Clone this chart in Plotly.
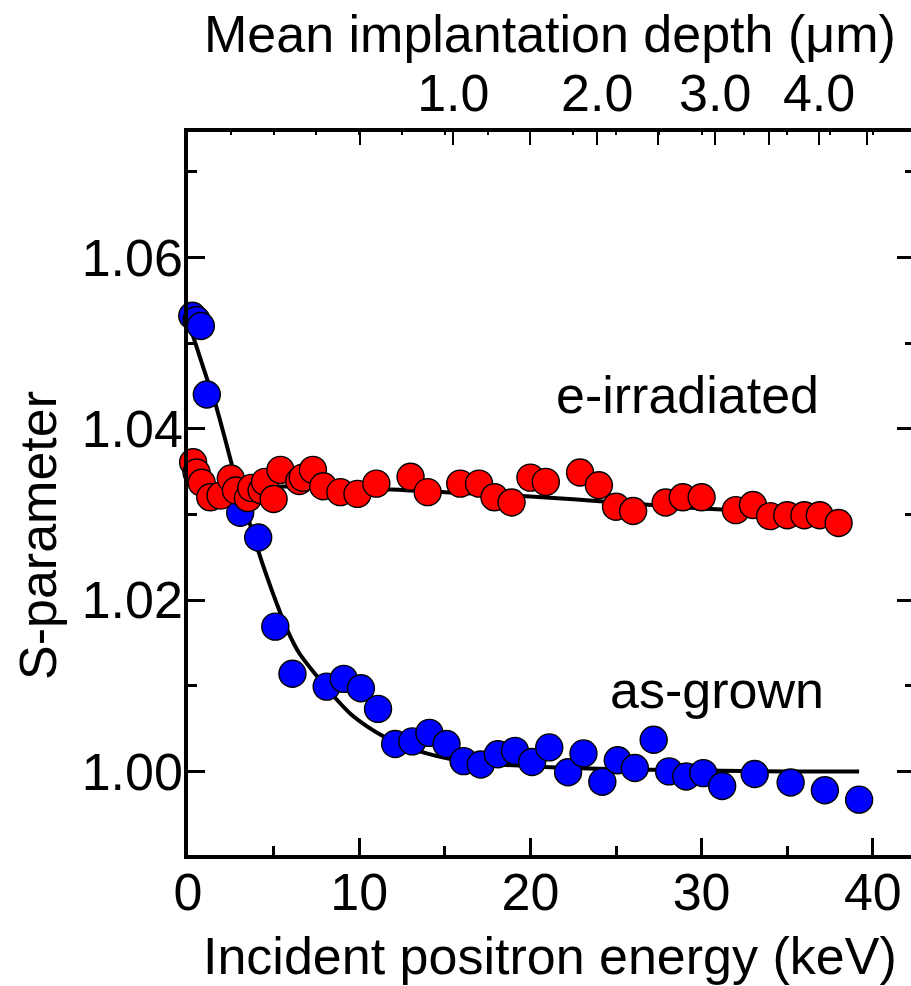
import numpy as np
import plotly.graph_objects as go

# ---------------- data ----------------
# as-grown (blue)
asg_E = [0.25, 0.5, 0.75, 1.1, 3.05, 4.1, 5.1, 6.1, 8.1, 9.1, 10.1, 11.1, 12.1, 13.1,
         14.1, 15.1, 16.1, 17.1, 18.1, 19.1, 20.1, 21.1, 22.2, 23.1, 24.2, 25.1, 26.1,
         27.2, 28.1, 29.1, 30.1, 31.2, 33.1, 35.2, 37.2, 39.2]
asg_S = [1.0532, 1.0527, 1.0520, 1.0440, 1.0302, 1.0273, 1.0169, 1.0114, 1.0099, 1.0108,
         1.0097, 1.0073, 1.0032, 1.0035, 1.0045, 1.0032, 1.0012, 1.0008, 1.0020, 1.0024,
         1.0011, 1.0028, 0.9999, 1.0021, 0.9988, 1.0013, 1.0004, 1.0037, 1.0000, 0.9994,
         0.9998, 0.9983, 0.9997, 0.9987, 0.9978, 0.9967]

# e-irradiated (red)
irr_E = [0.3, 0.5, 0.8, 1.3, 1.9, 2.5, 2.8, 3.5, 3.7, 4.3, 4.5, 5.0, 5.4, 6.5, 6.7, 7.3,
         7.9, 8.9, 9.9, 11.0, 13.0, 14.0, 15.9, 17.0, 17.9, 18.9, 20.0, 20.9, 22.9, 24.0,
         25.0, 26.0, 27.9, 28.9, 30.0, 32.0, 33.0, 34.0, 35.0, 36.0, 36.9, 38.0]
irr_S = [1.0361, 1.0349, 1.0337, 1.0320, 1.0322, 1.0342, 1.0328, 1.0319, 1.0331, 1.0328,
         1.0338, 1.0318, 1.0352, 1.0339, 1.0343, 1.0352, 1.0333, 1.0326, 1.0324, 1.0336,
         1.0344, 1.0326, 1.0336, 1.0336, 1.0320, 1.0314, 1.0343, 1.0338, 1.0349, 1.0334,
         1.0309, 1.0304, 1.0314, 1.0320, 1.0320, 1.0305, 1.0311, 1.0298, 1.0299, 1.0299,
         1.0299, 1.0290]

# fit curves
fitA_E = [0.25, 1.0, 1.6, 2.1, 2.7, 3.4, 4.0, 4.6, 5.2, 5.8, 6.5, 7.5, 8.5, 9.5, 10.5,
          11.5, 13.0, 15.0, 17.0, 20.0, 24.0, 30.0, 35.0, 39.2]
fitA_S = [1.0511, 1.0465, 1.0429, 1.0393, 1.0348, 1.0303, 1.0264, 1.0228, 1.0195, 1.0165,
          1.0138, 1.0112, 1.0088, 1.0067, 1.0052, 1.0040, 1.0027, 1.0016, 1.0010, 1.0006,
          1.0003, 1.0001, 1.0000, 1.0000]
fitB_E = [0.3, 1.0, 2.0, 5.0, 10.0, 15.0, 20.0, 25.0, 30.0, 35.0, 38.0]
fitB_S = [1.0345, 1.0337, 1.0334, 1.0333, 1.0331, 1.0326, 1.0321, 1.0314, 1.0307, 1.0302, 1.0299]

# top axis: mean implantation depth ticks (µm); z[nm] = 40/rho * E^1.6, rho = 3.21 g/cm3
depth_ticks = [0.5, 1.0, 1.5, 2.0, 2.5, 3.0, 3.5, 4.0, 4.5]
depth_text = ["", "1.0", "", "2.0", "", "3.0", "", "4.0", ""]
rho = 3.21
depth_E = [(z * 1000.0 / (40.0 / rho)) ** (1 / 1.6) for z in depth_ticks]

x_ticks = [0, 10, 20, 30, 40]
y_ticks = [1.00, 1.02, 1.04, 1.06]
y_minor = [0.99, 1.01, 1.03, 1.05, 1.07]

XR = [0, 42.23]
YR = [0.99024, 1.07465]
FONT = "Liberation Sans, Arial, sans-serif"
FS = 52

fig = go.Figure()
fig.add_trace(go.Scatter(x=fitA_E, y=fitA_S, mode="lines", line=dict(color="black", width=4, shape="spline", smoothing=0.8),
                         showlegend=False, hoverinfo="skip"))
fig.add_trace(go.Scatter(x=fitB_E, y=fitB_S, mode="lines", line=dict(color="black", width=4, shape="spline", smoothing=0.8),
                         showlegend=False, hoverinfo="skip"))
fig.add_trace(go.Scatter(x=asg_E, y=asg_S, mode="markers",
                         marker=dict(size=27, color="#0000ff", line=dict(color="black", width=1.4)),
                         showlegend=False, cliponaxis=False))
fig.add_trace(go.Scatter(x=irr_E, y=irr_S, mode="markers",
                         marker=dict(size=27, color="#ff0000", line=dict(color="black", width=1.4)),
                         showlegend=False, cliponaxis=False))
# dummy trace to activate the top / right axes
fig.add_trace(go.Scatter(x=[None], y=[None], xaxis="x2", yaxis="y2", showlegend=False, hoverinfo="skip"))

axis_common = dict(showgrid=False, zeroline=False, linecolor="black", tickcolor="black",
                   tickfont=dict(family=FONT, size=FS, color="black"))

fig.update_layout(
    width=911, height=986,
    margin=dict(l=188, r=0, t=132, b=131, pad=0),
    paper_bgcolor="white", plot_bgcolor="white",
    xaxis=dict(range=XR, showline=True, linewidth=3.5, ticks="inside", ticklen=17, tickwidth=3,
               tickmode="array", tickvals=x_ticks, ticktext=[str(v) for v in x_ticks],
               minor=dict(ticks="inside", tickmode="array", tickvals=[5, 15, 25, 35], ticklen=9, tickwidth=3),
               ticklabelstandoff=-11, **axis_common),
    yaxis=dict(range=YR, showline=True, linewidth=3.5, ticks="inside", ticklen=17, tickwidth=3,
               tickmode="array", tickvals=y_ticks, ticktext=["%.2f" % v for v in y_ticks],
               minor=dict(ticks="inside", tickmode="array", tickvals=y_minor, ticklen=9, tickwidth=3),
               ticklabelstandoff=-9, **axis_common),
    xaxis2=dict(range=XR, overlaying="x", side="top", anchor="y2", showline=True, linewidth=3.5,
                ticks="inside", ticklen=13, tickwidth=2,
                tickmode="array", tickvals=depth_E, ticktext=depth_text,
                minor=dict(ticks="inside", tickmode="linear", tick0=0, dtick=2.5, ticklen=3, tickwidth=2),
                ticklabelstandoff=-4, **axis_common),
    yaxis2=dict(range=YR, overlaying="y", side="right", anchor="x2", showline=False,
                ticks="inside", ticklen=14, tickwidth=3, showticklabels=False,
                tickmode="array", tickvals=y_ticks,
                minor=dict(ticks="inside", tickmode="array", tickvals=y_minor, ticklen=6, tickwidth=3),
                **axis_common),
)

ann_font = dict(family=FONT, size=FS, color="black")
fig.add_annotation(text="Incident positron energy (keV)", xref="paper", yref="paper", x=0.5, y=0,
                   xanchor="center", yanchor="top", yshift=-70, showarrow=False, font=ann_font)
fig.add_annotation(text="Mean implantation depth (μm)", xref="paper", yref="paper", x=0.5, y=1,
                   xanchor="center", yanchor="top", yshift=129, showarrow=False, font=ann_font)
fig.add_annotation(text="S-parameter", xref="paper", yref="paper", x=-0.2075, y=0.4426,
                   xanchor="center", yanchor="middle", textangle=-90, showarrow=False, font=ann_font)
fig.add_annotation(text="e-irradiated", xref="x", yref="y", x=29.2, y=1.0440,
                   xanchor="center", yanchor="middle", showarrow=False, font=ann_font)
fig.add_annotation(text="as-grown", xref="x", yref="y", x=30.9, y=1.0095,
                   xanchor="center", yanchor="middle", showarrow=False, font=ann_font)

fig.write_html("out.html")
